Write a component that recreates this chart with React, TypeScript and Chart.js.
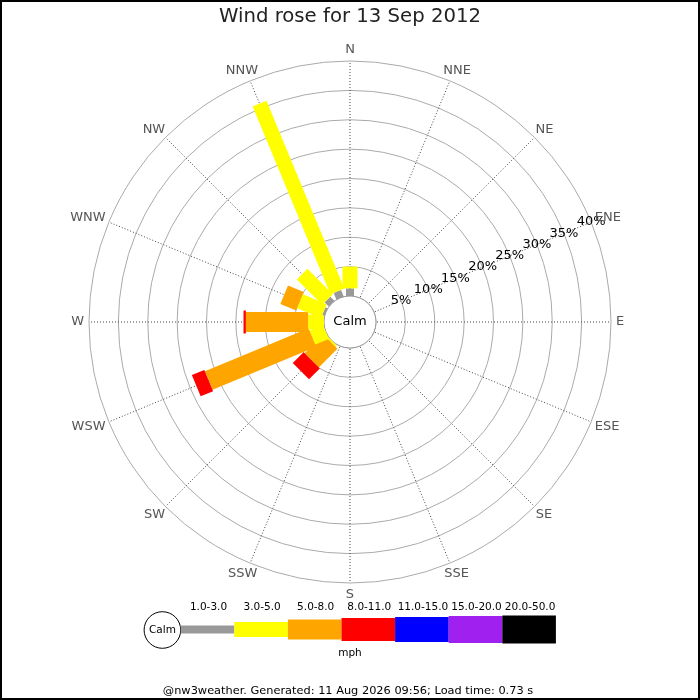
import React, { useEffect, useRef } from 'react';
import { Chart, registerables } from 'chart.js';

Chart.register(...registerables);

// ---- data ----
const directions = ['N', 'NNE', 'NE', 'ENE', 'E', 'ESE', 'SE', 'SSE', 'S', 'SSW', 'SW', 'WSW', 'W', 'WNW', 'NW', 'NNW'];
const speedBands = ['1.0-3.0', '3.0-5.0', '5.0-8.0', '8.0-11.0', '11.0-15.0', '15.0-20.0', '20.0-50.0'];
//                 N    NNE NE ENE E  ESE SE SSE S  SSW SW   WSW   W     WNW  NW   NNW
const band1to3 =  [1.3, 0, 0, 0, 0, 0, 0, 0, 0, 0, 0,   0,    0,    0.4, 1.0, 1.2];
const band3to5 =  [3.7, 0, 0, 0, 0, 0, 0, 0, 0, 0, 0.3, 2.5,  2.7,  4.4, 6.1, 34.6];
const band5to8 =  [0,   0, 0, 0, 0, 0, 0, 0, 0, 0, 4.5, 19.1, 10.6, 2.9, 0,   0];
const band8to11 = [0,   0, 0, 0, 0, 0, 0, 0, 0, 0, 2.6, 2.3,  0.4,  0,   0,   0];
const band11to15 = [0, 0, 0, 0, 0, 0, 0, 0, 0, 0, 0, 0, 0, 0, 0, 0];
const band15to20 = [0, 0, 0, 0, 0, 0, 0, 0, 0, 0, 0, 0, 0, 0, 0, 0];
const band20to50 = [0, 0, 0, 0, 0, 0, 0, 0, 0, 0, 0, 0, 0, 0, 0, 0];
const tickValues = [5, 10, 15, 20, 25, 30, 35, 40];
const scaleMax = 40;
const titleText = 'Wind rose for 13 Sep 2012';
const calmLabel = 'Calm';
const unitLabel = 'mph';
const footerText = '@nw3weather. Generated: 11 Aug 2026 09:56; Load time: 0.73 s';

// ---- styles ----
const bandColors = ['#999999', '#ffff00', '#ffa500', '#ff0000', '#0000ff', '#a020f0', '#000000'];
const bandWidths = [8, 15, 20, 23, 25, 27, 28];
const FONT = '"DejaVu Sans", sans-serif';
const CALM_RADIUS = 26;
const RADIUS = 261;
const scaleMin = (-scaleMax * CALM_RADIUS) / (RADIUS - CALM_RADIUS);

const windRosePlugin = {
  id: 'windRose',
  beforeDatasetsDraw(chart: any) {
    const s = chart.scales.r;
    const ctx = chart.ctx;
    const rc = s.getDistanceFromCenterForValue(0);
    ctx.save();
    ctx.beginPath();
    ctx.arc(s.xCenter, s.yCenter, rc, 0, Math.PI * 2);
    ctx.fillStyle = '#ffffff';
    ctx.fill();
    ctx.strokeStyle = '#999999';
    ctx.lineWidth = 1;
    ctx.stroke();
    ctx.restore();
  },
  afterDatasetsDraw(chart: any) {
    const s = chart.scales.r;
    const ctx = chart.ctx;
    const sets = chart.data.datasets;
    ctx.save();
    ctx.lineCap = 'butt';
    for (let i = 0; i < directions.length; i++) {
      let cum = 0;
      sets.forEach((ds: any, b: number) => {
        const v = ds.data[i];
        if (!v) return;
        const p0 = s.getPointPositionForValue(i, cum);
        const p1 = s.getPointPositionForValue(i, cum + v);
        ctx.beginPath();
        ctx.moveTo(p0.x, p0.y);
        ctx.lineTo(p1.x, p1.y);
        ctx.strokeStyle = ds.borderColor;
        ctx.lineWidth = bandWidths[b];
        ctx.stroke();
        cum += v;
      });
    }
    // tick labels along ENE
    ctx.font = `13px ${FONT}`;
    ctx.fillStyle = '#000';
    ctx.textAlign = 'center';
    ctx.textBaseline = 'middle';
    tickValues.forEach((t) => {
      const p = s.getPointPositionForValue(3, t);
      ctx.fillText(`${t}%`, p.x, p.y);
    });
    // direction labels
    ctx.fillStyle = '#555555';
    const R0 = s.drawingArea + 5;
    directions.forEach((d, i) => {
      const q = s.getPointPosition(i, 1);
      const ux = q.x - s.xCenter;
      const uy = q.y - s.yCenter;
      const hw = ctx.measureText(d).width / 2;
      const hh = 6.5;
      ctx.fillText(d, s.xCenter + ux * (R0 + hw), s.yCenter + uy * (R0 + hh));
    });
    ctx.fillStyle = '#000';
    ctx.fillText(calmLabel, s.xCenter, s.yCenter);
    ctx.restore();
  },
  afterDraw(chart: any) {
    const ctx = chart.ctx;
    ctx.save();
    ctx.textAlign = 'center';
    ctx.textBaseline = 'middle';
    ctx.fillStyle = '#222';
    ctx.font = `19.7px ${FONT}`;
    ctx.fillText(titleText, 350, 17);

    // legend
    const lx = 180.7;
    const segW = 53.6;
    const ly = 629.5;
    ctx.beginPath();
    ctx.arc(162.4, 630, 18.3, 0, Math.PI * 2);
    ctx.fillStyle = '#fff';
    ctx.fill();
    ctx.strokeStyle = '#000';
    ctx.lineWidth = 1;
    ctx.stroke();
    ctx.fillStyle = '#000';
    ctx.font = `10.5px ${FONT}`;
    ctx.fillText(calmLabel, 162.4, 630);
    speedBands.forEach((lab, b) => {
      const x0 = lx + b * segW;
      const h = bandWidths[b];
      ctx.fillStyle = bandColors[b];
      ctx.fillRect(x0, ly - h / 2, segW, h);
      ctx.fillStyle = '#000';
      ctx.fillText(lab, x0 + segW / 2 + 1, 607);
    });
    ctx.font = `10.5px ${FONT}`;
    ctx.fillText(unitLabel, 350, 653);
    ctx.font = `11.35px ${FONT}`;
    ctx.fillText(footerText, 348, 691.5);

    ctx.strokeStyle = '#000';
    ctx.lineWidth = 2;
    ctx.strokeRect(1, 1, 698, 698);
    ctx.restore();
  },
};

export default function App() {
  const ref = useRef<HTMLCanvasElement | null>(null);
  useEffect(() => {
    if (!ref.current) return;
    const bands = [band1to3, band3to5, band5to8, band8to11, band11to15, band15to20, band20to50];
    const chart = new Chart(ref.current, {
      type: 'radar',
      data: {
        labels: directions,
        datasets: bands.map((data, b) => ({
          label: speedBands[b],
          data,
          borderColor: bandColors[b],
          backgroundColor: bandColors[b],
          showLine: false,
          pointRadius: 0,
          pointHoverRadius: 0,
          borderWidth: 0,
          fill: false,
        })),
      },
      options: {
        responsive: false,
        animation: false,
        events: [],
        layout: { padding: { left: 89, right: 89, top: 61, bottom: 117 } },
        plugins: {
          legend: { display: false },
          title: { display: false },
          tooltip: { enabled: false },
        },
        scales: {
          r: {
            min: scaleMin,
            max: scaleMax,
            beginAtZero: false,
            afterBuildTicks: (scale: any) => {
              scale.ticks = [scaleMin, 0, ...tickValues].map((v) => ({ value: v }));
            },
            ticks: { display: false },
            pointLabels: { display: false },
            grid: { circular: true, color: '#aaaaaa', lineWidth: 1 },
            angleLines: { display: true, color: '#444444', lineWidth: 1, borderDash: [1, 2] },
          },
        },
      },
      plugins: [windRosePlugin],
    } as any);
    return () => chart.destroy();
  }, []);
  return (
    <div style={{ position: 'absolute', left: 0, top: 0, width: 700, height: 700, background: '#fff' }}>
      <canvas ref={ref} width={700} height={700} />
    </div>
  );
}
